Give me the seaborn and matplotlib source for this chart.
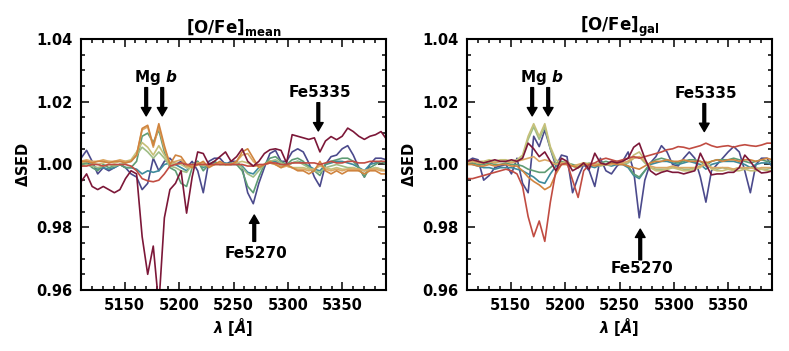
import numpy as np
import pandas as pd
import seaborn as sns
import matplotlib.pyplot as plt

# wavelength grid of the plotted spectra (Angstrom)
wave = np.round(np.linspace(5110, 5390.5, 56), 1)

models = ['navy', 'teal', 'green', 'sage', 'khaki', 'tan', 'orange', 'red', 'maroon']
colors = ['#4b4a8c', '#3d8a9c', '#5e9c74', '#9fbd86', '#c6c07a', '#dba866', '#d0843f', '#c14c42', '#7c1738']

# ---- left panel: [O/Fe]_mean ----
mean_navy = [1.002, 1.0045, 1.001, 0.997, 0.999, 0.998, 0.999, 1.000, 0.999, 0.997,
             0.996, 0.992, 0.994, 1.002, 0.998, 1.001, 1.002, 1.000, 1.001, 0.999,
             1.001, 0.998, 0.991, 1.001, 1.002, 1.002, 1.000, 1.001, 1.001, 0.999,
             0.991, 0.9875, 0.994, 0.999, 1.0035, 1.0045, 1.001, 1.001, 1.004, 1.005,
             1.004, 1.0005, 0.996, 0.993, 1.000, 1.0025, 1.003, 1.005, 1.006, 1.003,
             0.999, 0.996, 1.000, 1.002, 1.002, 1.0015]
mean_teal = [1.0005, 1.001, 1.0, 0.9985, 0.999, 0.9985, 0.999, 1.0, 0.999, 0.999,
             0.9985, 0.997, 0.998, 0.9975, 0.998, 1.0, 1.0005, 1.0, 0.999, 0.998,
             1.0, 1.001, 0.999, 1.0, 1.0005, 1.0, 1.0005, 1.0, 1.0, 0.9995,
             0.9975, 0.997, 0.999, 1.0, 1.001, 1.001, 1.0, 0.9995, 1.0005, 1.001,
             1.0005, 0.9995, 0.9985, 0.998, 1.0, 1.0005, 1.001, 1.001, 1.0005, 1.0,
             0.999, 0.998, 1.0, 1.0005, 1.001, 1.0005]
mean_green = [1.000, 1.0005, 0.999, 0.998, 1.000, 0.999, 0.9995, 1.000, 0.999, 0.999,
              1.001, 1.009, 1.010, 1.007, 1.011, 1.004, 0.999, 0.998, 0.994, 0.993,
              0.999, 1.001, 0.998, 1.000, 1.001, 1.000, 1.000, 1.0005, 1.000, 0.998,
              0.993, 0.991, 0.996, 1.000, 1.002, 1.0025, 1.001, 1.000, 1.0015, 1.002,
              1.001, 0.999, 0.998, 0.9965, 1.000, 1.001, 1.0015, 1.002, 1.002, 1.001,
              0.999, 0.996, 0.999, 1.000, 1.001, 1.000]
mean_sage = [0.9995, 1.0, 0.9995, 0.999, 0.9995, 1.0, 0.9995, 1.0, 1.0005, 1.001,
             1.003, 1.0055, 1.004, 1.002, 1.004, 1.002, 0.9995, 0.999, 0.998, 0.9975,
             1.0, 1.0005, 0.9995, 1.0, 1.0, 1.0005, 1.0, 1.0, 1.0005, 0.999,
             0.997, 0.996, 0.998, 1.0, 1.001, 1.0015, 1.0005, 0.9995, 1.0005, 1.001,
             1.0, 0.999, 0.998, 0.9975, 0.999, 0.9995, 1.0, 0.9995, 0.999, 0.999,
             0.998, 0.997, 0.9985, 0.999, 0.9985, 0.998]
mean_khaki = [1.0005, 1.001, 1.0005, 1.0, 1.0005, 1.001, 1.0005, 1.001, 1.001, 1.0015,
              1.004, 1.007, 1.0055, 1.003, 1.006, 1.003, 1.0, 1.0005, 1.0, 0.999,
              0.999, 1.0, 1.0, 0.9995, 1.0, 1.0, 1.0, 1.0, 1.0005, 1.001,
              1.0005, 0.9995, 0.9995, 1.0, 1.0005, 1.0, 0.9995, 0.9995, 0.999, 0.999,
              0.999, 0.9985, 0.9985, 0.9995, 0.999, 0.9985, 0.999, 0.9985, 0.9985, 0.999,
              0.9985, 0.998, 0.9985, 0.999, 0.9985, 0.998]
mean_tan = [1.001, 1.0015, 1.001, 1.001, 1.0015, 1.001, 1.001, 1.0015, 1.001, 1.001,
            1.003, 1.011, 1.012, 1.0055, 1.012, 1.005, 1.0005, 1.001, 1.0015, 0.9995,
            0.9995, 1.0005, 1.0005, 0.9995, 1.0, 1.0005, 1.0, 1.0, 1.001, 1.003,
            1.0035, 1.001, 0.9995, 1.0, 1.0005, 1.0, 0.999, 0.9995, 0.999, 0.9985,
            0.9985, 0.998, 0.9985, 1.0, 0.9985, 0.998, 0.9985, 0.998, 0.9985, 0.9985,
            0.9985, 0.998, 0.9985, 0.9985, 0.998, 0.998]
mean_orange = [1.001, 1.001, 1.0005, 1.001, 1.001, 1.0005, 1.001, 1.001, 1.0005, 1.001,
               1.003, 1.0115, 1.0125, 1.006, 1.013, 1.006, 1.000, 1.003, 1.0025, 1.000,
               0.999, 1.000, 1.001, 0.999, 1.000, 1.001, 1.000, 1.000, 1.001, 1.004,
               1.005, 1.002, 0.999, 1.000, 1.001, 1.000, 0.999, 1.000, 0.999, 0.998,
               0.998, 0.997, 0.998, 1.001, 0.998, 0.997, 0.998, 0.997, 0.998, 0.998,
               0.998, 0.997, 0.998, 0.998, 0.997, 0.997]
mean_red = [0.9995, 0.9995, 1.0, 1.0, 0.9995, 1.0, 1.0, 1.0, 1.0, 0.9995,
            0.998, 0.9955, 0.9948, 0.9945, 0.995, 0.997, 0.9995, 1.0, 1.0005, 1.0,
            1.0, 1.0, 1.0, 1.0, 1.0, 1.0, 1.0, 1.0, 1.0, 1.0,
            0.9995, 0.9995, 1.0, 1.0, 1.0005, 1.0005, 1.0, 1.0, 1.0005, 1.0005,
            1.0005, 1.0005, 1.0005, 1.0, 1.0005, 1.001, 1.0005, 1.0005, 1.001, 1.001,
            1.0005, 1.0005, 1.001, 1.001, 1.001, 1.001]
mean_maroon = [0.9945, 0.997, 0.993, 0.992, 0.993, 0.992, 0.991, 0.992, 0.9955, 0.998,
               0.997, 0.977, 0.965, 0.974, 0.955, 0.983, 0.992, 0.994, 0.998, 0.9845,
               0.996, 1.004, 1.0035, 1.000, 1.001, 1.0025, 1.004, 1.001, 1.0025, 1.005,
               1.001, 0.9995, 1.001, 1.0035, 1.0047, 1.005, 1.0045, 1.0005, 1.0095, 1.009,
               1.0085, 1.008, 1.0085, 1.004, 1.0075, 1.0089, 1.0079, 1.009, 1.0116, 1.0105,
               1.009, 1.008, 1.009, 1.0095, 1.0105, 1.008]

# ---- right panel: [O/Fe]_gal ----
gal_navy = [1.001, 1.002, 1.0015, 0.995, 0.9965, 0.999, 0.9995, 1.000, 0.997, 1.002,
            0.994, 0.991, 1.009, 1.0057, 1.011, 1.005, 0.9995, 1.003, 1.0025, 0.991,
            0.996, 1.000, 0.998, 0.993, 1.002, 0.998, 0.997, 0.9995, 1.001, 1.004,
            0.998, 0.983, 0.995, 1.0005, 1.0025, 1.006, 1.004, 1.000, 0.9995, 1.002,
            1.004, 1.002, 0.996, 0.988, 0.998, 1.000, 1.002, 1.004, 1.0057, 1.004,
            0.998, 0.991, 1.000, 1.002, 1.002, 0.999]
gal_teal = [1.0005, 1.0, 0.9995, 0.999, 0.999, 0.9985, 0.999, 0.999, 0.999, 0.9985,
            0.998, 0.997, 0.996, 0.9945, 0.994, 0.997, 0.9995, 1.0005, 1.0, 0.9995,
            0.999, 1.0, 0.9995, 0.999, 1.0, 1.0, 0.9995, 1.0, 1.0, 0.999,
            0.9965, 0.9955, 0.998, 1.0, 1.0005, 1.001, 1.001, 1.0005, 1.0, 1.0005,
            1.001, 1.0005, 1.0, 0.9985, 1.0, 1.0005, 1.001, 1.001, 1.001, 1.0005,
            1.0, 0.999, 1.0, 1.0005, 1.0005, 1.0]
gal_green = [1.0005, 1.0005, 1.0, 1.0, 1.0005, 1.0, 1.0, 1.0005, 1.0, 1.0,
             0.9995, 0.9985, 0.998, 0.9975, 0.9975, 0.999, 1.0005, 1.001, 1.0005, 1.0,
             0.9995, 1.0005, 1.0, 1.0, 1.0005, 1.001, 1.0005, 1.001, 1.0005, 0.9995,
             0.997, 0.996, 0.998, 1.0005, 1.0015, 1.002, 1.0015, 1.001, 1.0005, 1.001,
             1.0015, 1.0015, 1.001, 0.9995, 1.001, 1.0015, 1.0015, 1.0015, 1.002, 1.0015,
             1.001, 1.0005, 1.001, 1.0015, 1.001, 1.001]
gal_sage = [1.0005, 1.001, 1.0005, 1.0005, 1.001, 1.0005, 1.001, 1.001, 1.001, 1.001,
            1.0025, 1.008, 1.012, 1.008, 1.012, 1.005, 1.0005, 1.0, 1.0005, 0.9995,
            0.999, 1.0, 1.0005, 1.0, 0.9995, 1.0, 1.0, 1.0005, 1.0, 1.0005,
            1.002, 1.0025, 1.0005, 0.999, 0.9985, 0.9985, 0.9985, 0.999, 0.999, 0.9985,
            0.9985, 0.999, 0.9995, 1.0005, 0.999, 0.9985, 0.999, 0.9985, 0.9985, 0.999,
            0.9985, 0.999, 0.999, 0.9985, 0.9985, 0.999]
gal_khaki = [1.001, 1.0015, 1.001, 1.001, 1.0015, 1.001, 1.0015, 1.0015, 1.001, 1.0015,
             1.003, 1.009, 1.013, 1.009, 1.013, 1.0057, 1.0015, 1.0005, 1.001, 0.9995,
             0.9995, 1.0005, 1.0, 1.0, 1.0005, 1.0, 1.0, 1.0005, 1.0005, 1.001,
             1.003, 1.004, 1.0015, 0.999, 0.998, 0.998, 0.9985, 0.999, 0.9985, 0.998,
             0.998, 0.9985, 0.999, 1.001, 0.9985, 0.998, 0.998, 0.9985, 0.998, 0.998,
             0.9985, 0.998, 0.998, 0.9985, 0.998, 0.998]
gal_tan = [1.0005, 1.001, 1.0005, 1.0005, 1.001, 1.0005, 1.001, 1.001, 1.0005, 1.001,
           1.0015, 1.002, 1.0025, 1.001, 1.0015, 1.001, 1.0, 1.0005, 1.0, 0.9995,
           1.0, 1.0005, 1.0, 1.0, 1.0, 1.0, 1.0, 1.0005, 1.0005, 1.001,
           1.002, 1.0025, 1.001, 0.9995, 0.999, 0.999, 0.999, 0.9995, 0.999, 0.999,
           0.999, 0.999, 0.9995, 1.0, 0.999, 0.999, 0.999, 0.999, 0.9985, 0.999,
           0.999, 0.999, 0.9985, 0.999, 0.999, 0.999]
gal_orange = [1.0, 1.0, 0.9995, 0.9995, 1.0, 0.9995, 1.0, 1.0, 0.9995, 0.9995,
              0.998, 0.996, 0.9946, 0.9935, 0.992, 0.993, 0.997, 1.0, 1.0, 0.9995,
              0.999, 1.0, 1.0, 0.9995, 1.0, 1.0, 1.0005, 1.0, 1.0, 0.9995,
              0.999, 0.9985, 0.9995, 1.0005, 1.001, 1.001, 1.0015, 1.001, 1.001, 1.0015,
              1.001, 1.001, 1.001, 1.0005, 1.001, 1.0015, 1.001, 1.0015, 1.0015, 1.001,
              1.0015, 1.0015, 1.001, 1.0015, 1.002, 1.0015]
gal_red = [0.9955, 0.9955, 0.996, 0.9965, 0.997, 0.9975, 0.998, 0.9985, 0.998, 0.997,
           0.993, 0.9834, 0.977, 0.982, 0.9755, 0.988, 0.998, 1.000, 1.0005, 0.995,
           0.9895, 0.998, 1.000, 1.0005, 1.0015, 1.002, 1.0015, 1.001, 1.0015, 1.002,
           1.0025, 1.002, 1.0025, 1.003, 1.0035, 1.004, 1.0047, 1.005, 1.0057, 1.0055,
           1.005, 1.0055, 1.006, 1.0068, 1.006, 1.0055, 1.0058, 1.006, 1.0055, 1.006,
           1.0063, 1.006, 1.0058, 1.0062, 1.0068, 1.0068]
gal_maroon = [1.001, 1.0015, 1.001, 1.0005, 1.001, 1.0015, 1.001, 1.001, 1.0015, 1.001,
              1.002, 1.0068, 1.005, 1.0025, 1.004, 1.001, 0.998, 1.002, 1.001, 0.998,
              0.999, 1.0005, 0.9985, 1.0036, 1.0005, 1.000, 1.001, 1.0005, 1.001, 1.002,
              1.0055, 1.0068, 1.002, 0.998, 0.9967, 0.9975, 0.998, 0.9975, 0.9975, 0.997,
              0.9975, 0.998, 1.0036, 1.000, 0.9967, 0.997, 0.997, 0.9975, 0.9975, 0.999,
              1.003, 1.001, 0.9985, 0.9973, 0.9975, 0.998]

mean_series = [mean_navy, mean_teal, mean_green, mean_sage, mean_khaki,
               mean_tan, mean_orange, mean_red, mean_maroon]
gal_series = [gal_navy, gal_teal, gal_green, gal_sage, gal_khaki,
              gal_tan, gal_orange, gal_red, gal_maroon]


def to_long(series):
    frames = []
    for name, vals in zip(models, series):
        frames.append(pd.DataFrame({'wave': wave, 'sed': vals, 'model': name}))
    return pd.concat(frames, ignore_index=True)


sns.set_style('ticks')
plt.rcParams['font.family'] = ['DejaVu Sans']
plt.rcParams['font.weight'] = 'bold'
plt.rcParams['mathtext.fontset'] = 'dejavusans'
plt.rcParams['axes.linewidth'] = 1.5
plt.rcParams['axes.edgecolor'] = 'black'
plt.rcParams['axes.labelcolor'] = 'black'
plt.rcParams['text.color'] = 'black'
plt.rcParams['xtick.color'] = 'black'
plt.rcParams['ytick.color'] = 'black'
plt.rcParams['xtick.direction'] = 'in'
plt.rcParams['ytick.direction'] = 'in'

palette = dict(zip(models, colors))
fig = plt.figure(figsize=(7.89, 3.51), dpi=100)
ax1 = fig.add_axes([0.1027, 0.1738, 0.3866, 0.7151])
ax2 = fig.add_axes([0.5919, 0.1738, 0.3866, 0.7151])

panels = [
    (ax1, mean_series, r'$\mathbf{[O/Fe]_{mean}}$', (0.9717, 0.9755, 0.9839), (1.0229, 1.0197, 1.0107)),
    (ax2, gal_series, r'$\mathbf{[O/Fe]_{gal}}$', (0.9670, 0.9696, 0.9794), (1.0225, 1.0194, 1.0105)),
]

arrow = dict(facecolor='black', edgecolor='black', width=2.0, headwidth=7, headlength=6, shrink=0)

for ax, series, title, fe5270, fe5335 in panels:
    sns.lineplot(data=to_long(series), x='wave', y='sed', hue='model', hue_order=models,
                 palette=palette, estimator=None, sort=False, legend=False, lw=1.2, ax=ax)
    ax.set_xlim(5110, 5390)
    ax.set_ylim(0.96, 1.04)
    ax.set_xticks([5150, 5200, 5250, 5300, 5350])
    ax.set_xticks(np.arange(5110, 5391, 10), minor=True)
    ax.set_yticks([0.96, 0.98, 1.00, 1.02, 1.04])
    ax.set_yticks(np.arange(0.96, 1.0401, 0.005), minor=True)
    ax.yaxis.set_major_formatter(plt.FormatStrFormatter('%.2f'))
    ax.tick_params(which='both', top=True, right=True, width=1.1, color='black')
    ax.tick_params(which='major', length=6, pad=6, labelsize=10.5)
    ax.tick_params(which='minor', length=3)
    for lab in ax.get_xticklabels() + ax.get_yticklabels():
        lab.set_fontweight('bold')
    ax.set_title(title, fontsize=12, pad=4, color='black')
    ax.set_xlabel(r'$\mathbfit{\lambda}$ [$\mathbfit{\AA}$]', fontsize=10.5, fontweight='bold', labelpad=2)
    ax.set_ylabel(r'$\mathbf{\Delta}$SED', fontsize=10.5, fontweight='bold', labelpad=4)

    # line identifications
    ax.text(5178.8, 1.0276, r'Mg $\mathbfit{b}$', ha='center', va='center', fontsize=11, fontweight='bold')
    for lam in (5169.8, 5184.5):
        ax.annotate('', xy=(lam, 1.0155), xytext=(lam, 1.0245), arrowprops=arrow)
    ax.text(5329.5, fe5335[0], 'Fe5335', ha='center', va='center', fontsize=11, fontweight='bold')
    ax.annotate('', xy=(5327.8, fe5335[2]), xytext=(5327.8, fe5335[1]), arrowprops=arrow)
    ax.text(5270.5, fe5270[0], 'Fe5270', ha='center', va='center', fontsize=11, fontweight='bold')
    ax.annotate('', xy=(5269, fe5270[2]), xytext=(5269, fe5270[1]), arrowprops=arrow)

plt.savefig('out.png', dpi=100)
